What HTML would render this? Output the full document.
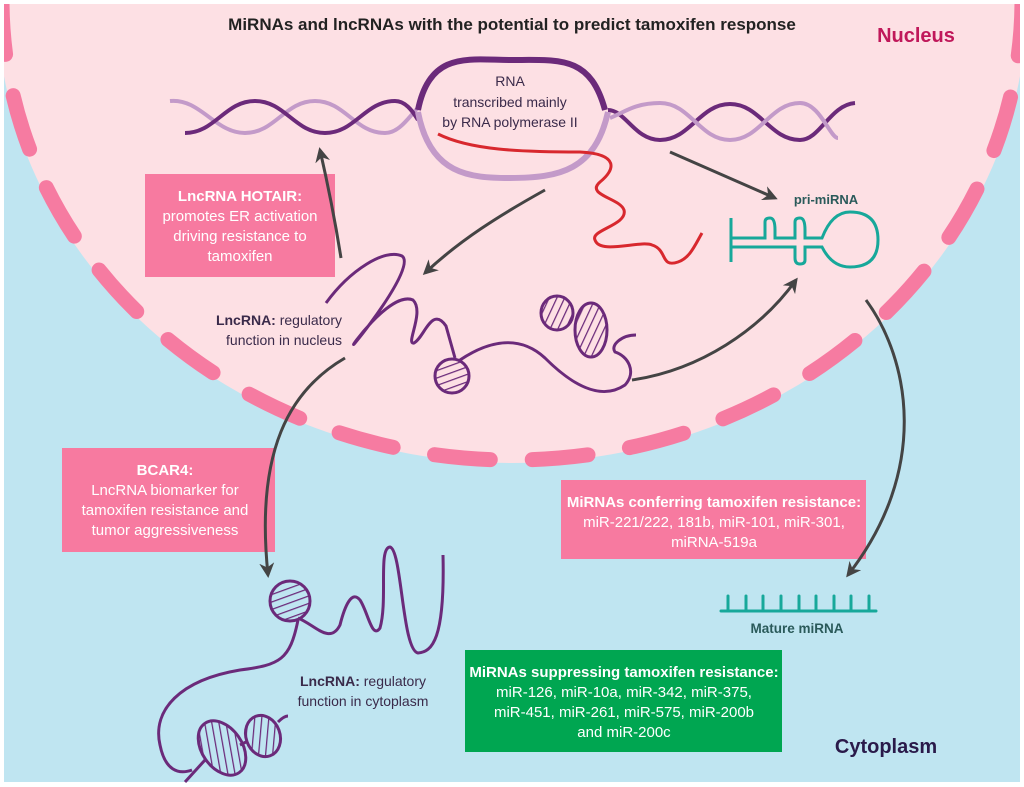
<!DOCTYPE html>
<html><head><meta charset="utf-8"><style>
body{margin:0;background:#fff;}
svg{display:block;font-family:"Liberation Sans",sans-serif;}
</style></head><body>
<svg width="1024" height="787" viewBox="0 0 1024 787" xmlns="http://www.w3.org/2000/svg">
<defs>
<marker id="ah" viewBox="0 0 10 10" refX="8" refY="5" markerWidth="5" markerHeight="5" orient="auto"><path d="M0,0 L10,5 L0,10 L3,5 z" fill="#444"/></marker>
<pattern id="hatch" width="7" height="7" patternUnits="userSpaceOnUse" patternTransform="rotate(70)"><line x1="0" y1="0" x2="0" y2="7" stroke="#6b2a7a" stroke-width="2.5"/></pattern>
<pattern id="hatch2" width="7" height="7" patternUnits="userSpaceOnUse" patternTransform="rotate(25)"><line x1="0" y1="0" x2="0" y2="7" stroke="#6b2a7a" stroke-width="2.5"/></pattern>
</defs>
<rect x="4" y="4" width="1016" height="778" fill="#bfe5f1"/>
<clipPath id="cl"><rect x="4" y="4" width="1016" height="778"/></clipPath>
<g clip-path="url(#cl)">
<ellipse cx="512" cy="0" rx="515" ry="463" fill="#fde0e4"/>
<ellipse cx="512" cy="0" rx="510" ry="460" fill="none" stroke="#f67ba1" stroke-width="15" stroke-linecap="round" stroke-dasharray="56 42"/>
</g>
<text x="512" y="30" text-anchor="middle" font-size="17" font-weight="bold" fill="#222">MiRNAs and lncRNAs with the potential to predict tamoxifen response</text>
<text x="916" y="42" text-anchor="middle" font-size="20" font-weight="bold" fill="#c0185a">Nucleus</text>
<text x="886" y="753" text-anchor="middle" font-size="20" font-weight="bold" fill="#2a1a4a">Cytoplasm</text>

<!-- DNA left -->
<path d="M170,101 C200,98 215,133 245,133 C275,133 285,101 315,101 C345,101 355,133 385,133 C400,133 410,115 418,108" fill="none" stroke="#c39ac9" stroke-width="4"/>
<path d="M185,133 C215,133 225,101 255,101 C285,101 295,133 325,133 C355,133 365,101 395,101 C405,101 412,110 418,120" fill="none" stroke="#6b2a7a" stroke-width="4"/>
<path d="M418,110 C430,50 470,60 510,60 C560,60 590,55 605,110" fill="none" stroke="#6b2a7a" stroke-width="6"/>
<path d="M418,112 C430,175 470,178 510,178 C560,178 595,170 608,112" fill="none" stroke="#c39ac9" stroke-width="6"/>
<path d="M608,110 C625,110 635,140 660,140 C690,140 700,104 730,104 C760,104 770,140 800,140 C820,140 830,105 855,103" fill="none" stroke="#6b2a7a" stroke-width="4"/>
<path d="M610,118 C625,112 635,103 660,103 C690,103 700,140 730,140 C760,140 770,103 800,103 C820,103 830,138 838,138" fill="none" stroke="#c39ac9" stroke-width="4"/>
<text text-anchor="middle" font-size="14" fill="#3a2a4a"><tspan x="510" y="86">RNA</tspan><tspan x="510" y="107">transcribed mainly</tspan><tspan x="510" y="127">by  RNA polymerase II</tspan></text>
<path d="M438,134 C470,150 520,152 580,152 C620,154 615,170 600,182 C585,195 620,198 624,210 C628,225 590,230 595,240 C600,255 640,240 652,245 C668,250 660,268 678,262 C690,258 695,245 702,233" fill="none" stroke="#d8282e" stroke-width="3"/>

<text x="826" y="204" text-anchor="middle" font-size="13" font-weight="bold" fill="#2a5a5a">pri-miRNA</text>
<g fill="none" stroke="#17a89a" stroke-width="3">
<path d="M731,218 V262 M731,238 H765 V222 Q765,218 770,218 Q775,218 775,230 V238 H795 V222 Q795,218 800,218 Q805,218 805,230 V238 H822 Q832,212 850,212 Q878,212 878,240 Q878,267 850,267 Q832,267 822,247 H805 V260 Q805,264 800,264 Q795,264 795,258 V247 H731"/>
</g>

<g fill="none" stroke="#6b2a7a" stroke-width="3">
<path d="M326,303 C350,270 385,248 402,256 C415,265 370,325 355,343 C345,355 390,290 413,300 C425,312 405,345 414,343 C424,338 432,305 446,326 L455,358"/>
<path d="M460,360 C490,340 520,335 545,358 C570,383 600,402 625,385 C637,372 628,356 615,352 C610,345 622,335 636,335"/>
</g>
<circle cx="452" cy="376" r="17" fill="url(#hatch)" stroke="#6b2a7a" stroke-width="3"/>
<ellipse cx="557" cy="313" rx="16" ry="17" fill="url(#hatch2)" stroke="#6b2a7a" stroke-width="3"/>
<ellipse cx="591" cy="330" rx="16" ry="27" fill="url(#hatch2)" stroke="#6b2a7a" stroke-width="3"/>
<text text-anchor="end" font-size="14" fill="#3a2a4a"><tspan x="342" y="325"><tspan font-weight="bold">LncRNA:</tspan> regulatory</tspan><tspan x="342" y="345">function in nucleus</tspan></text>

<g fill="none" stroke="#6b2a7a" stroke-width="3">
<path d="M298,618 C315,625 330,645 340,625 C345,605 352,590 360,600 C368,612 372,640 380,628 C388,600 378,548 390,547 C402,550 402,650 418,653 C432,652 445,640 443,555"/>
<path d="M298,620 C290,660 280,665 240,670 C180,680 152,710 160,745 C165,770 178,775 192,770"/>
<path d="M240,745 L246,742 M278,722 C282,718 285,716 288,716"/>
<path d="M205,760 L185,782"/>
</g>
<circle cx="290" cy="601" r="20" fill="url(#hatch)" stroke="#6b2a7a" stroke-width="3"/>
<ellipse cx="222" cy="748" rx="20" ry="30" transform="rotate(-35 222 748)" fill="url(#hatch2)" stroke="#6b2a7a" stroke-width="3"/>
<ellipse cx="263" cy="736" rx="17" ry="21" transform="rotate(-20 263 736)" fill="url(#hatch2)" stroke="#6b2a7a" stroke-width="3"/>
<text text-anchor="middle" font-size="14" fill="#3a2a4a"><tspan x="363" y="686"><tspan font-weight="bold">LncRNA:</tspan> regulatory</tspan><tspan x="363" y="706">function in cytoplasm</tspan></text>

<rect x="145" y="174" width="190" height="103" fill="#f77aa0"/>
<text text-anchor="middle" font-size="15" fill="#fff"><tspan x="240" y="201" font-weight="bold">LncRNA HOTAIR:</tspan><tspan x="240" y="221">promotes ER activation</tspan><tspan x="240" y="241">driving resistance to</tspan><tspan x="240" y="261">tamoxifen</tspan></text>
<rect x="62" y="448" width="213" height="104" fill="#f77aa0"/>
<text text-anchor="middle" font-size="15" fill="#fff"><tspan x="165" y="475" font-weight="bold">BCAR4:</tspan><tspan x="165" y="495">LncRNA biomarker for</tspan><tspan x="165" y="515">tamoxifen resistance and</tspan><tspan x="165" y="535">tumor aggressiveness</tspan></text>
<rect x="561" y="480" width="305" height="79" fill="#f77aa0"/>
<text text-anchor="middle" font-size="15" fill="#fff"><tspan x="714" y="507" font-weight="bold">MiRNAs conferring tamoxifen resistance:</tspan><tspan x="714" y="527">miR-221/222, 181b, miR-101, miR-301,</tspan><tspan x="714" y="547">miRNA-519a</tspan></text>
<rect x="465" y="650" width="317" height="102" fill="#00a651"/>
<text text-anchor="middle" font-size="15" fill="#fff"><tspan x="624" y="677" font-weight="bold">MiRNAs suppressing tamoxifen resistance:</tspan><tspan x="624" y="697">miR-126, miR-10a, miR-342, miR-375,</tspan><tspan x="624" y="717">miR-451, miR-261, miR-575, miR-200b</tspan><tspan x="624" y="737">and miR-200c</tspan></text>

<g stroke="#17a89a" stroke-width="3" stroke-linecap="round">
<line x1="721" y1="611" x2="876" y2="611"/>
<line x1="728" y1="596" x2="728" y2="611"/><line x1="746" y1="596" x2="746" y2="611"/><line x1="763" y1="596" x2="763" y2="611"/><line x1="781" y1="596" x2="781" y2="611"/><line x1="799" y1="596" x2="799" y2="611"/><line x1="816" y1="596" x2="816" y2="611"/><line x1="834" y1="596" x2="834" y2="611"/><line x1="851" y1="596" x2="851" y2="611"/><line x1="869" y1="596" x2="869" y2="611"/>
</g>
<text x="797" y="633" text-anchor="middle" font-size="13.5" font-weight="bold" fill="#2a5a5a">Mature miRNA</text>

<g fill="none" stroke="#444" stroke-width="3" marker-end="url(#ah)">
<path d="M341,258 C335,220 328,185 320,150"/>
<path d="M545,190 C500,215 460,240 425,273"/>
<path d="M670,152 L775,198"/>
<path d="M632,380 C700,370 760,330 796,280"/>
<path d="M345,358 C290,390 255,450 268,575"/>
<path d="M866,300 C910,360 930,470 848,575"/>
</g>
</svg>
</body></html>
